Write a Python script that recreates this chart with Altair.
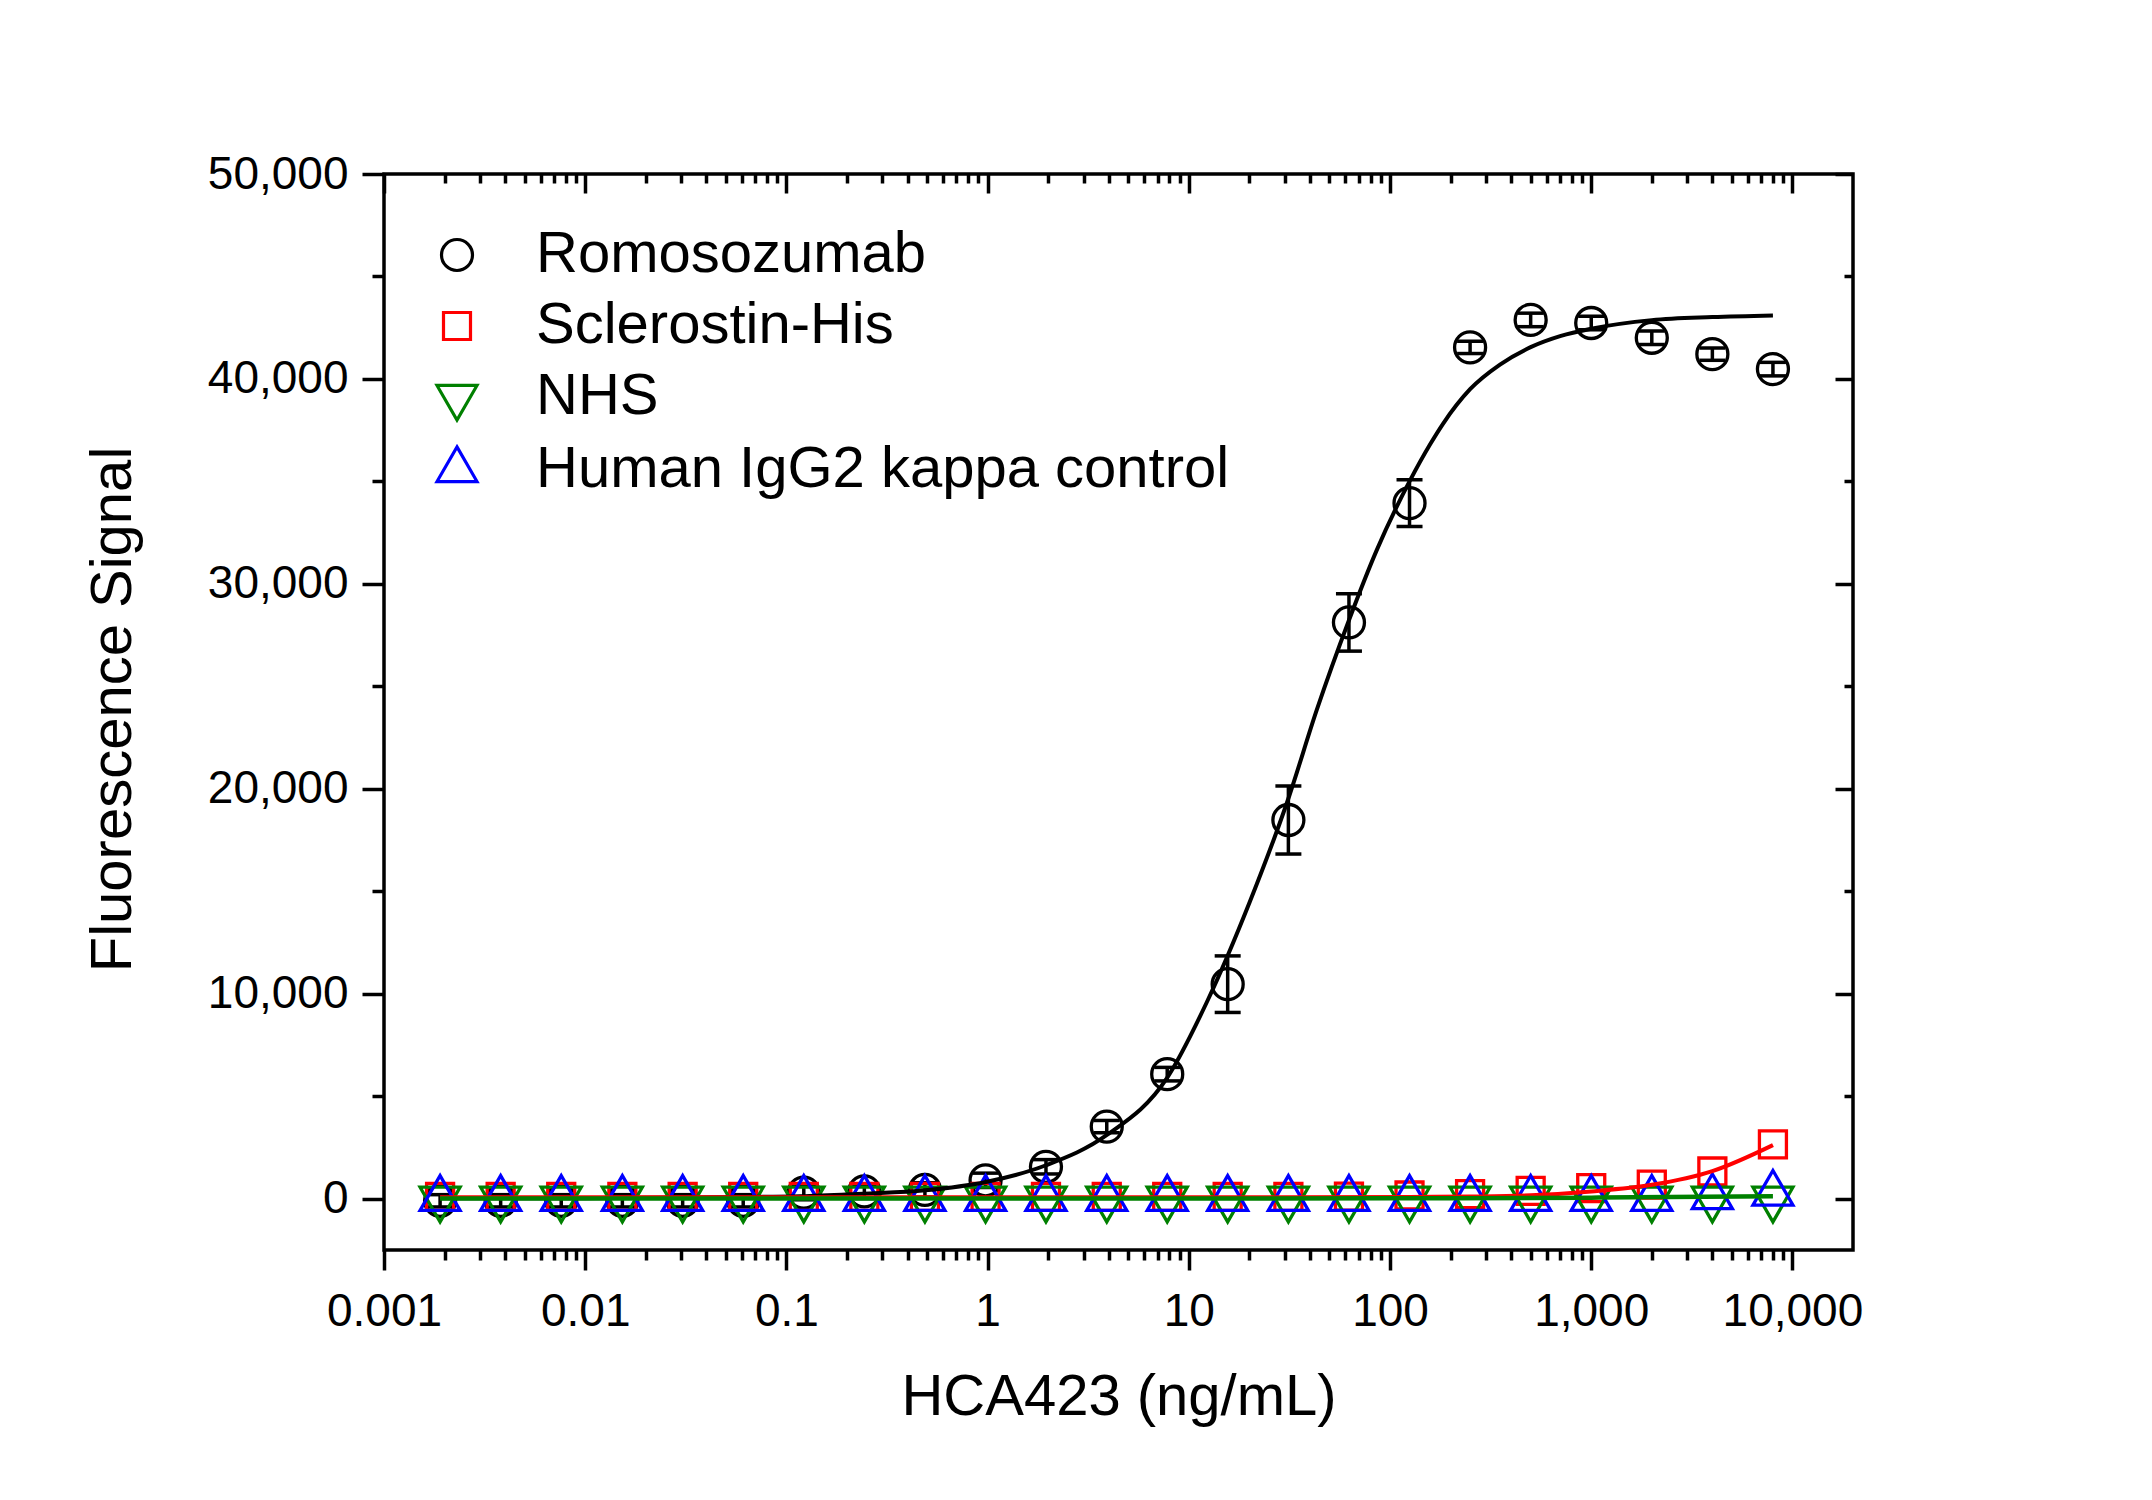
import altair as alt
import pandas as pd

FONT = "Liberation Sans"

# ---------------- data ----------------
conc = [0.0019, 0.0038, 0.0076, 0.0153, 0.0305, 0.061, 0.122, 0.244, 0.488, 0.977,
        1.95, 3.91, 7.81, 15.6, 31.25, 62.5, 125, 250, 500, 1000, 2000, 4000, 8000]

romo_mean = [-100, -100, -100, -100, -100, -100, 300, 360, 430, 900,
             1560, 3520, 6080, 10470, 18480, 28120, 33940, 41540, 42880, 42730, 42010, 41210, 40480]
romo_sd = [300, 300, 300, 300, 300, 300, 350, 350, 350, 350,
           350, 300, 330, 1380, 1660, 1400, 1140, 300, 330, 330, 330, 300, 330]
scl_mean = [90, 90, 90, 90, 90, 90, 90, 90, 90, 90,
            90, 90, 90, 90, 90, 100, 160, 230, 380, 520, 690, 1330, 2650]
nhs_mean = [0, 0, 0, 0, 0, 0, 0, 0, 0, 0,
            0, 0, 0, 0, 0, 0, 0, 0, 0, 0, 0, 0, 0]
igg_mean = [0, 0, 0, 0, 0, 0, 0, 0, 0, 0,
            0, 0, 0, 0, 0, 0, 0, 0, 0, 0, 0, 80, 250]

# fitted curves
romo_fit_x = [0.0019, 0.01, 0.03, 0.117, 0.24, 0.49, 0.98, 1.95, 3.9, 7.8, 12.3, 20.1,
              31.25, 43.2, 62.5, 85.9, 125, 158, 183, 250, 352, 500, 707, 1000, 2000, 4000, 8000]
romo_fit_y = [20, 30, 60, 120, 250, 415, 820, 1635, 3100, 5900, 9600, 14490,
              19530, 23840, 28230, 31650, 35000, 36800, 37800, 39500, 40700, 41550, 42100, 42450,
              42870, 43020, 43100]
scl_fit_x = [0.0019, 1, 30, 125, 250, 500, 1000, 2000, 4000, 8000]
scl_fit_y = [70, 70, 75, 90, 110, 170, 360, 680, 1350, 2620]
nhs_fit_x = [0.0019, 100, 1000, 8000]
nhs_fit_y = [10, 20, 55, 120]

series_names = ["Romosozumab", "Sclerostin-His", "NHS", "Human IgG2 kappa control"]
series_colors = ["#000000", "#FF0000", "#008000", "#0000FF"]
# symbol outlines (unit = 1/10 of a marker of size 400)
CIRCLE = "M1.55,0A1.55,1.55,0,1,1,-1.55,0A1.55,1.55,0,1,1,1.55,0Z"
SQUARE = "M-1.35,-1.35L1.35,-1.35L1.35,1.35L-1.35,1.35Z"
TRI_DOWN = "M-2,-1.1547L2,-1.1547L0,2.3094Z"
TRI_UP = "M0,-2.3094L2,1.1547L-2,1.1547Z"
series_shapes = [CIRCLE, SQUARE, TRI_DOWN, TRI_UP]

x_major = [0.001, 0.01, 0.1, 1, 10, 100, 1000, 10000]
x_minor = [m * d for d in [0.001, 0.01, 0.1, 1, 10, 100, 1000] for m in range(2, 10)]
y_major = [0, 10000, 20000, 30000, 40000, 50000]
y_minor = [5000, 15000, 25000, 35000, 45000]

# ---------------- tables ----------------
pts_rows = []
for name, vals in zip(series_names, [romo_mean, scl_mean, nhs_mean, igg_mean]):
    for c, v in zip(conc, vals):
        pts_rows.append({"series": name, "conc": c, "value": v})
pts = pd.DataFrame(pts_rows)

err = pd.DataFrame({"conc": conc,
                    "lo": [m - s for m, s in zip(romo_mean, romo_sd)],
                    "hi": [m + s for m, s in zip(romo_mean, romo_sd)]})
caps = pd.DataFrame({"conc": conc + conc, "cap": list(err["lo"]) + list(err["hi"])})

romo_fit = pd.DataFrame({"conc": romo_fit_x, "value": romo_fit_y})
scl_fit = pd.DataFrame({"conc": scl_fit_x, "value": scl_fit_y})
nhs_fit = pd.DataFrame({"conc": nhs_fit_x, "value": nhs_fit_y})

# ---------------- scales & axes ----------------
xscale = alt.Scale(type="log", domain=[0.001, 20000], nice=False)
yscale = alt.Scale(domain=[-2500, 50000], nice=False, zero=False)

W, H = 1469, 1076
TW = 3.5
TICK_FS = 46
TITLE_FS = 58

ax_x_bottom = alt.Axis(orient="bottom", values=x_major, tickSize=20, tickWidth=TW, tickColor="black",
                       domain=False, grid=False, format=",", labelFont=FONT, labelFontSize=TICK_FS,
                       labelColor="black", labelPadding=19, labelFlush=False, labelOverlap=False,
                       labelBound=False, title="HCA423 (ng/mL)", titleFont=FONT, titleFontSize=TITLE_FS,
                       titleFontWeight="normal", titleColor="black", titleX=W / 2, titleY=164,
                       titleBaseline="alphabetic", titleAlign="center")
ax_x_bottom_minor = alt.Axis(orient="bottom", values=x_minor, tickSize=10, tickWidth=TW, tickColor="black",
                             domain=False, grid=False, labels=False, title=None)
ax_x_top = alt.Axis(orient="top", offset=-19, values=x_major, tickSize=19, tickWidth=TW, tickColor="black",
                    domain=False, grid=False, labels=False, title=None)
ax_x_top_minor = alt.Axis(orient="top", offset=-9, values=x_minor, tickSize=9, tickWidth=TW, tickColor="black",
                          domain=False, grid=False, labels=False, title=None)

ax_y_left = alt.Axis(orient="left", values=y_major, tickSize=22, tickWidth=TW, tickColor="black",
                     domain=False, grid=False, format=",.0f", labelFont=FONT, labelFontSize=TICK_FS,
                     labelColor="black", labelPadding=14, labelFlush=False, labelOverlap=False,
                     labelBound=False, title="Fluorescence Signal", titleFont=FONT, titleFontSize=TITLE_FS,
                     titleFontWeight="normal", titleColor="black", titleX=-254, titleY=535,
                     titleAngle=270, titleBaseline="alphabetic", titleAlign="center")
ax_y_left_minor = alt.Axis(orient="left", values=y_minor, tickSize=12, tickWidth=TW, tickColor="black",
                           domain=False, grid=False, labels=False, title=None)
ax_y_right = alt.Axis(orient="right", offset=-18, values=y_major, tickSize=18, tickWidth=TW, tickColor="black",
                      domain=False, grid=False, labels=False, title=None)
ax_y_right_minor = alt.Axis(orient="right", offset=-9, values=y_minor, tickSize=9, tickWidth=TW,
                            tickColor="black", domain=False, grid=False, labels=False, title=None)

legend = alt.Legend(title=None, orient="none", legendX=44, legendY=52, padding=0,
                    labelFont=FONT, labelFontSize=TITLE_FS, labelColor="black", labelOffset=50,
                    rowPadding=13, symbolSize=400, symbolStrokeWidth=3.2, symbolOffset=0, labelLimit=0)

# ---------------- layers ----------------
rules = alt.Chart(err).mark_rule(color="black", strokeWidth=TW).encode(
    x=alt.X("conc:Q", scale=xscale, axis=None),
    y=alt.Y("lo:Q", scale=yscale, axis=None),
    y2="hi:Q",
)
cap_marks = alt.Chart(caps).mark_tick(color="black", orient="horizontal", size=26, thickness=TW,
                                      opacity=1).encode(
    x=alt.X("conc:Q", scale=xscale, axis=None),
    y=alt.Y("cap:Q", scale=yscale, axis=None),
)
points = alt.Chart(pts).mark_point(filled=False, size=400, strokeWidth=3.3, opacity=1).encode(
    x=alt.X("conc:Q", scale=xscale, axis=ax_x_bottom),
    y=alt.Y("value:Q", scale=yscale, axis=ax_y_left),
    color=alt.Color("series:N", scale=alt.Scale(domain=series_names, range=series_colors), legend=legend),
    shape=alt.Shape("series:N", scale=alt.Scale(domain=series_names, range=series_shapes), legend=legend),
)
romo_line = alt.Chart(romo_fit).mark_line(color="black", strokeWidth=4, interpolate="monotone").encode(
    x=alt.X("conc:Q", scale=xscale, axis=ax_x_bottom_minor),
    y=alt.Y("value:Q", scale=yscale, axis=ax_y_left_minor),
)
scl_line = alt.Chart(scl_fit).mark_line(color="#FF0000", strokeWidth=4, interpolate="monotone").encode(
    x=alt.X("conc:Q", scale=xscale, axis=ax_x_top),
    y=alt.Y("value:Q", scale=yscale, axis=ax_y_right),
)
nhs_line = alt.Chart(nhs_fit).mark_line(color="#008000", strokeWidth=4.5, interpolate="monotone").encode(
    x=alt.X("conc:Q", scale=xscale, axis=ax_x_top_minor),
    y=alt.Y("value:Q", scale=yscale, axis=ax_y_right_minor),
)

chart = alt.layer(rules, cap_marks, points, romo_line, scl_line, nhs_line).resolve_axis(
    x="independent", y="independent"
).properties(
    width=W, height=H,
    padding={"left": 384, "top": 174, "right": 2152 - 384 - W, "bottom": 1500 - 174 - H},
    autosize=alt.AutoSizeParams(type="none"),
    background="white",
).configure_view(stroke="black", strokeWidth=TW)

chart.save("out.html", embed_options={"renderer": "svg", "actions": False})
